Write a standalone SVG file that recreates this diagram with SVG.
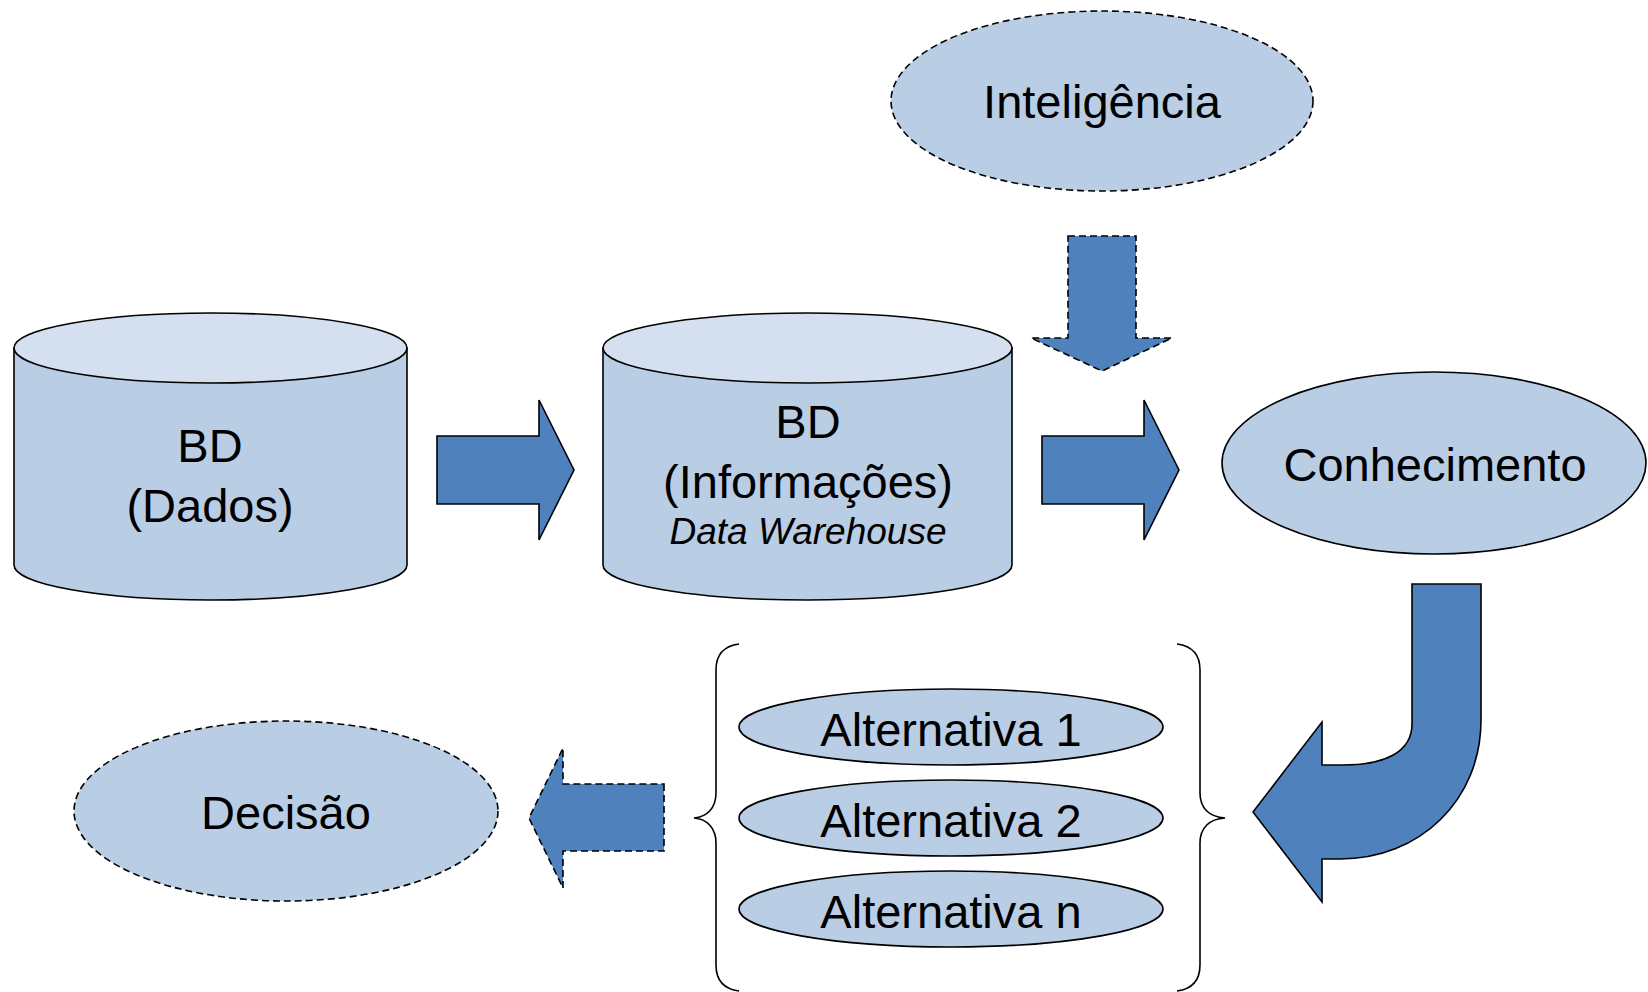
<svg xmlns="http://www.w3.org/2000/svg" width="1648" height="992" viewBox="0 0 1648 992">
<style>
.body{fill:#B9CDE5;stroke:#000;stroke-width:1.6}
.top{fill:#D4E0EF;stroke:#000;stroke-width:1.6}
.ell{fill:#B9CDE5;stroke:#000;stroke-width:1.6}
.dash{stroke-dasharray:7 4}
.arr{fill:#4F81BD;stroke:#000;stroke-width:1.6;stroke-linejoin:miter}
.brace{fill:none;stroke:#000;stroke-width:1.6}
text{font-family:"Liberation Sans",Arial,sans-serif;font-size:47px;fill:#000;text-anchor:middle}
.it{font-style:italic;font-size:37px}
</style>
<rect width="1648" height="992" fill="#fff"/>
<g id="bd-dados">
<path class="body" d="M14,348 V565 A196.5,35 0 0 0 407,565 V348 Z"/>
<ellipse class="top" cx="210.5" cy="348" rx="196.5" ry="35"/>
<text x="210" y="462">BD</text>
<text x="210" y="522">(Dados)</text>
</g>
<g id="bd-informacoes">
<path class="body" d="M603,348 V565 A204.5,35 0 0 0 1012,565 V348 Z"/>
<ellipse class="top" cx="807.5" cy="348" rx="204.5" ry="35"/>
<text x="808" y="438">BD</text>
<text x="808" y="498">(Informações)</text>
<text class="it" x="808" y="544">Data Warehouse</text>
</g>
<g id="inteligencia">
<ellipse class="ell dash" cx="1102" cy="101" rx="211" ry="90"/>
<text x="1102" y="118">Inteligência</text>
</g>
<g id="conhecimento">
<ellipse class="ell" cx="1434" cy="463" rx="212" ry="91"/>
<text x="1435" y="481">Conhecimento</text>
</g>
<g id="alternativas">
<ellipse class="ell" cx="951" cy="727" rx="212" ry="38"/>
<text x="951" y="746">Alternativa 1</text>
<ellipse class="ell" cx="951" cy="818" rx="212" ry="38"/>
<text x="951" y="837">Alternativa 2</text>
<ellipse class="ell" cx="951" cy="909" rx="212" ry="38"/>
<text x="951" y="928">Alternativa n</text>
<path class="brace" d="M739,644 C724,646 716,655 716,670 V793 C716,808 707,817 694,818 C707,819 716,828 716,843 V965 C716,980 724,989 739,991"/>
<path class="brace" d="M1177,644 C1192,646 1200,655 1200,670 V793 C1200,808 1209,817 1225,818 C1209,819 1200,828 1200,843 V965 C1200,980 1192,989 1177,991"/>
</g>
<g id="decisao">
<ellipse class="ell dash" cx="286" cy="811" rx="212" ry="90"/>
<text x="286" y="829">Decisão</text>
</g>
<g id="connectors">
<path class="arr" d="M437,436 H539 V400 L574,470 L539,540 V504 H437 Z"/>
<path class="arr" d="M1042,436 H1144 V400 L1179,470 L1144,540 V504 H1042 Z"/>
<path class="arr dash" d="M1068,236 H1136 V338 H1172 L1102,371 L1031,338 H1068 Z"/>
<path class="arr" d="M1412,584 H1481 V720 C1481,800 1420,859 1340,859 H1322 V902 L1253,812 L1322,722 V765 H1343 C1385,765 1412,752 1412,724 Z"/>
<path class="arr dash" d="M664,784 V851 H563 V888 L529,818 L563,748 V784 Z"/>
</g>
</svg>
